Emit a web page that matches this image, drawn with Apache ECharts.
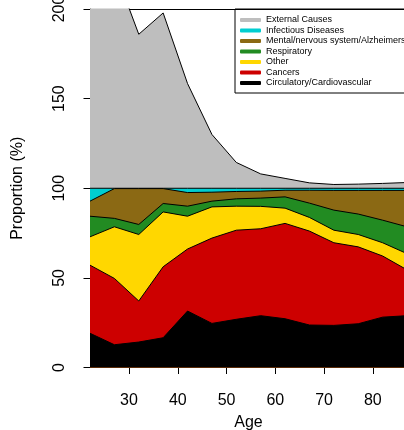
<!DOCTYPE html>
<html><head><meta charset="utf-8">
<script src="https://cdn.jsdelivr.net/npm/echarts@6/dist/echarts.min.js"></script>
<style>html,body{margin:0;padding:0;background:#fff}#c{width:404px;height:430px}</style>
</head><body><div id="c"></div>
<script>
const ages = [22, 27, 32, 37, 42, 47, 52, 57, 62, 67, 72, 77, 82, 87];
const circulatory = [19.1, 12.7, 14.2, 16.6, 31.5, 24.6, 26.9, 28.9, 27.2, 23.7, 23.5, 24.4, 28.1, 28.9];
const cancers     = [38.0, 37.0, 22.9, 39.6, 34.6, 47.6, 49.7, 48.5, 53.2, 52.4, 46.1, 42.9, 34.1, 25.6];
const other       = [15.8, 28.8, 37.1, 30.6, 18.3, 17.4, 13.4, 12.5, 8.5, 7.6, 7.0, 6.9, 7.4, 9.0];
const respiratory = [11.5, 4.7, 5.6, 4.7, 5.6, 3.2, 4.1, 4.6, 6.3, 8.0, 11.2, 11.4, 12.6, 15.0];
const mental      = [8.4, 16.6, 20.0, 8.3, 7.6, 5.0, 4.1, 3.9, 3.7, 7.2, 11.0, 13.2, 16.6, 20.3];
const infectious  = [7.2, 0.2, 0.2, 0.2, 2.4, 2.2, 1.8, 1.6, 1.1, 1.1, 1.2, 1.2, 1.2, 1.2];
const external    = [140, 122.4, 85.9, 97.8, 58.4, 30.0, 14.4, 8.0, 5.5, 3.0, 2.1, 2.3, 2.7, 3.2];
const xTicks = [30, 40, 50, 60, 70, 80];
const yTicks = [0, 50, 100, 150, 200];

const layers = [
  {name: 'Circulatory/Cardiovascular', data: circulatory, color: '#000000'},
  {name: 'Cancers', data: cancers, color: '#CD0000'},
  {name: 'Other', data: other, color: '#FFD700'},
  {name: 'Respiratory', data: respiratory, color: '#228B22'},
  {name: 'Mental/nervous system/Alzheimers', data: mental, color: '#8B6914'},
  {name: 'Infectious Diseases', data: infectious, color: '#00CED1'},
  {name: 'External Causes', data: external, color: '#BEBEBE'}
];
// cumulative tops (stacking done here, drawn as overlapping areas from 0 like R polygons)
const running = ages.map(() => 0);
const cum = layers.map(l => l.data.map((v, k) => (running[k] += v)));

const FONT = 'Liberation Sans, Arial, sans-serif';
const chart = echarts.init(document.getElementById('c'), null, {renderer: 'canvas'});
chart.setOption({
  animation: false,
  backgroundColor: '#ffffff',
  textStyle: {fontFamily: FONT},
  grid: {left: 90, right: -3, top: 9, bottom: 62.5, containLabel: false, outerBoundsMode: 'none'},
  legend: {
    orient: 'vertical', left: 235, top: 9,
    padding: [6.5, 6, 5.5, 5],
    backgroundColor: '#ffffff', borderColor: '#000', borderWidth: 1,
    icon: 'roundRect', itemWidth: 21, itemHeight: 4, itemGap: 1.5,
    textStyle: {fontSize: 9, color: '#000', fontFamily: FONT},
    selectedMode: false,
    data: layers.slice().reverse().map(l => l.name)
  },
  xAxis: [{
    type: 'value', min: 22, max: 87, z: 10,
    name: 'Age', nameLocation: 'middle', nameGap: 47,
    nameTextStyle: {fontSize: 16, color: '#000', fontFamily: FONT},
    axisLine: {show: true, lineStyle: {color: '#000', width: 1}},
    axisTick: {show: true, length: 6.5, lineStyle: {color: '#000'}, customValues: xTicks},
    axisLabel: {fontSize: 16, color: '#000', margin: 25, customValues: xTicks, fontFamily: FONT},
    splitLine: {show: false}
  }, {
    type: 'value', min: 22, max: 87, position: 'top', z: 10,
    axisLine: {show: true, lineStyle: {color: '#000', width: 1}},
    axisTick: {show: false}, axisLabel: {show: false}, splitLine: {show: false}
  }],
  yAxis: {
    type: 'value', min: 0, max: 200, interval: 50, z: 10,
    name: 'Proportion (%)', nameLocation: 'middle', nameGap: 64, nameRotate: 90,
    nameTextStyle: {fontSize: 16, color: '#000', fontFamily: FONT},
    axisLine: {show: true, lineStyle: {color: '#000', width: 1}},
    axisTick: {show: true, length: 6.5, lineStyle: {color: '#000'}},
    axisLabel: {fontSize: 16, color: '#000', margin: 22, rotate: 90, fontFamily: FONT,
      formatter: v => yTicks.includes(v) ? String(v) : ''},
    splitLine: {show: false}
  },
  series: layers.map((l, i) => ({
    name: l.name, type: 'line', xAxisIndex: 0,
    z: 20 - i,
    symbol: 'none', smooth: false, clip: true,
    color: l.color,
    itemStyle: {color: l.color},
    lineStyle: {color: '#000', width: 1},
    areaStyle: {color: l.color, opacity: 1, origin: 'start'},
    data: ages.map((a, k) => [a, cum[i][k]])
  }))
});
</script></body></html>
